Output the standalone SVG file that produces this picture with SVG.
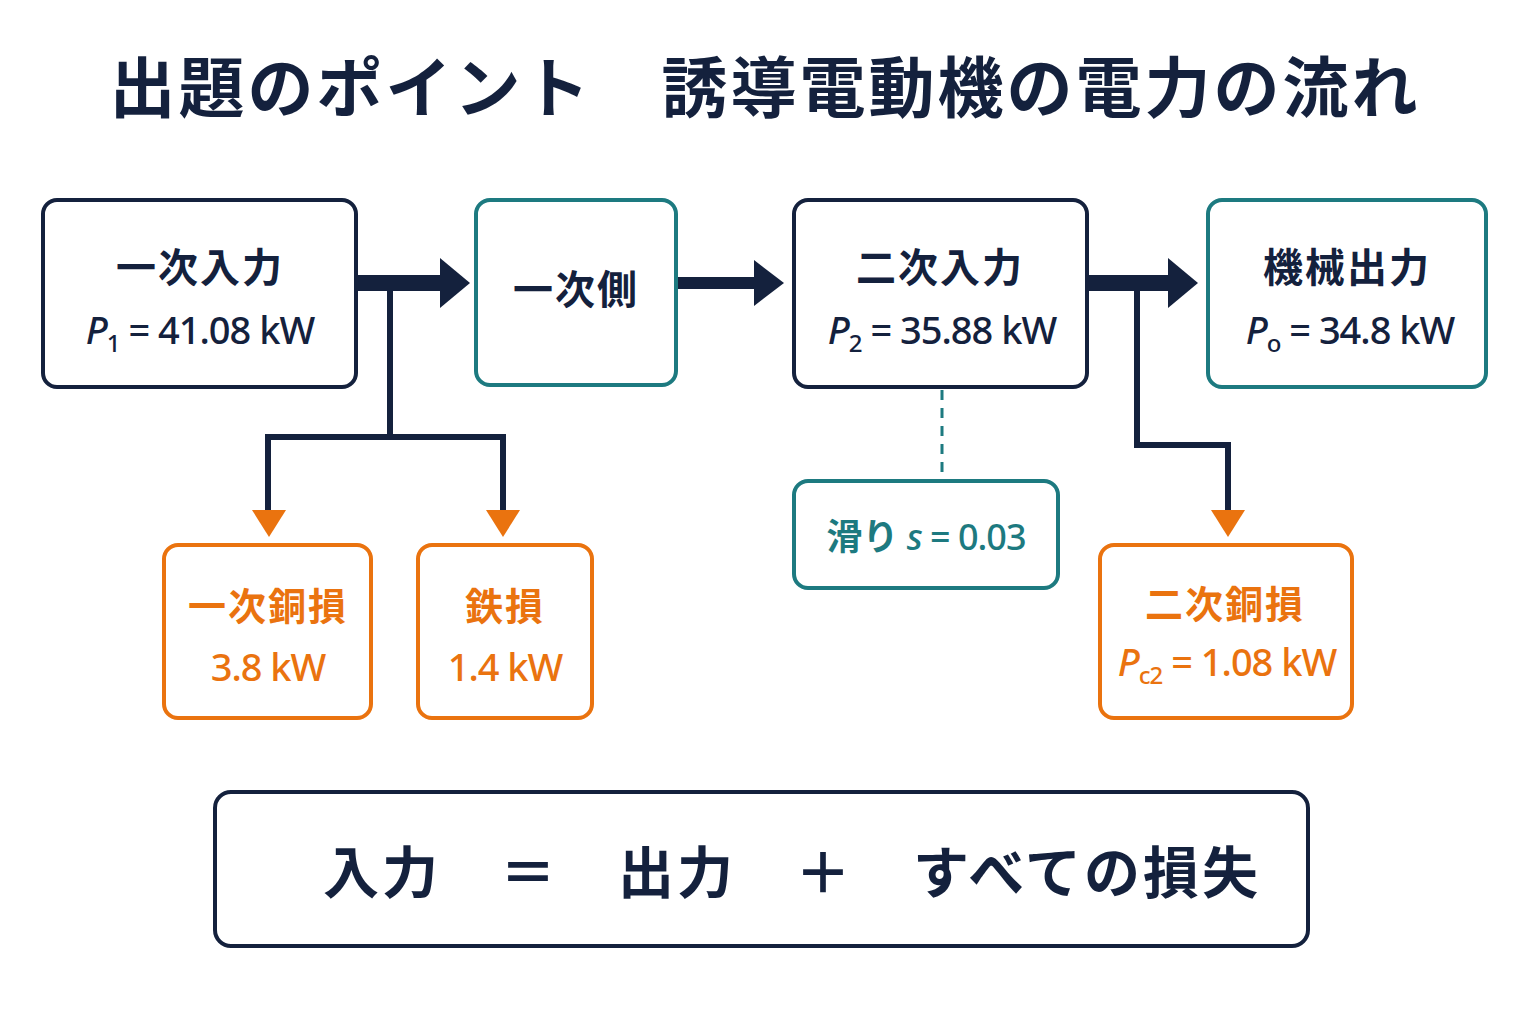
<svg xmlns="http://www.w3.org/2000/svg" width="1536" height="1024" viewBox="0 0 1536 1024">
<style>
.n{fill:#fff;stroke:#14213d;stroke-width:4}
.t{fill:#fff;stroke:#1d7a80;stroke-width:4}
.o{fill:#fff;stroke:#ea730f;stroke-width:4}
text{font-family:"Noto Sans CJK JP","Noto Sans",sans-serif;font-weight:700;text-anchor:middle}
.tn{fill:#14213d}.tt{fill:#1d7a80}.to{fill:#ea730f}
.v{font-family:"Noto Sans","Noto Sans CJK JP",sans-serif;font-weight:500;letter-spacing:-1px}
</style>
<rect width="1536" height="1024" fill="#fff"/>
<text x="765" y="112" font-size="66" class="tn" font-weight="900" letter-spacing="3">出題のポイント　誘導電動機の電力の流れ</text>
<g id="connectors">
<g stroke="#14213d" fill="none">
<line x1="356" y1="283" x2="442" y2="283" stroke-width="16"/>
<line x1="676" y1="283" x2="756" y2="283" stroke-width="12"/>
<line x1="1087" y1="283" x2="1170" y2="283" stroke-width="16"/>
<polyline points="390,283 390,437 268,437 268,512" stroke-width="6"/>
<polyline points="390,437 503,437 503,512" stroke-width="6"/>
<polyline points="1137,283 1137,445 1228,445 1228,512" stroke-width="6"/>
</g>
<g fill="#14213d">
<polygon points="440,258 470,283 440,308"/>
<polygon points="754,260 784,283 754,306"/>
<polygon points="1168,258 1198,283 1168,308"/>
</g>
<g fill="#ea730f">
<polygon points="252,510 286,510 269,537"/>
<polygon points="486,510 520,510 503,537"/>
<polygon points="1211,510 1245,510 1228,537"/>
</g>
<line x1="942" y1="390" x2="942" y2="480" stroke="#1d7a80" stroke-width="3" stroke-dasharray="10,8"/>
</g>
<g id="p1"><rect class="n" x="43" y="200" width="313" height="187" rx="14"/>
<text x="200" y="282" font-size="40" class="tn" letter-spacing="2">一次入力</text>
<text x="200" y="344" font-size="38" class="tn v"><tspan font-style="italic">P</tspan><tspan font-size="24" dy="8">1</tspan><tspan dy="-8"> = 41.08 kW</tspan></text></g>
<g id="side1"><rect class="t" x="476" y="200" width="200" height="185" rx="14"/>
<text x="576" y="304" font-size="40" class="tn" letter-spacing="2">一次側</text></g>
<g id="p2"><rect class="n" x="794" y="200" width="293" height="187" rx="14"/>
<text x="940" y="282" font-size="40" class="tn" letter-spacing="2">二次入力</text>
<text x="942" y="344" font-size="38" class="tn v"><tspan font-style="italic">P</tspan><tspan font-size="24" dy="8">2</tspan><tspan dy="-8"> = 35.88 kW</tspan></text></g>
<g id="po"><rect class="t" x="1208" y="200" width="278" height="187" rx="14"/>
<text x="1347" y="282" font-size="40" class="tn" letter-spacing="2">機械出力</text>
<text x="1350" y="344" font-size="38" class="tn v"><tspan font-style="italic">P</tspan><tspan font-size="24" dy="8">o</tspan><tspan dy="-8"> = 34.8 kW</tspan></text></g>
<g id="slip"><rect class="t" x="794" y="481" width="264" height="107" rx="14"/>
<text x="926" y="550" font-size="36" class="tt">滑り <tspan class="v" font-style="italic">s</tspan><tspan class="v"> = 0.03</tspan></text></g>
<g id="cu1"><rect class="o" x="164" y="545" width="207" height="173" rx="14"/>
<text x="268" y="620" font-size="38" class="to" letter-spacing="2">一次銅損</text>
<text x="268" y="681" font-size="38" class="to v">3.8 kW</text></g>
<g id="fe"><rect class="o" x="418" y="545" width="174" height="173" rx="14"/>
<text x="505" y="620" font-size="38" class="to" letter-spacing="2">鉄損</text>
<text x="505" y="681" font-size="38" class="to v">1.4 kW</text></g>
<g id="cu2"><rect class="o" x="1100" y="545" width="252" height="173" rx="14"/>
<text x="1225" y="618" font-size="38" class="to" letter-spacing="2">二次銅損</text>
<text x="1227" y="676" font-size="38" class="to v"><tspan font-style="italic">P</tspan><tspan font-size="24" dy="8">c2</tspan><tspan dy="-8"> = 1.08 kW</tspan></text></g>
<g id="eq"><rect class="n" x="215" y="792" width="1093" height="154" rx="16"/>
<text x="792" y="893" font-size="56" class="tn" letter-spacing="3" xml:space="preserve">入力　＝　出力　＋　すべての損失</text></g>
</svg>
